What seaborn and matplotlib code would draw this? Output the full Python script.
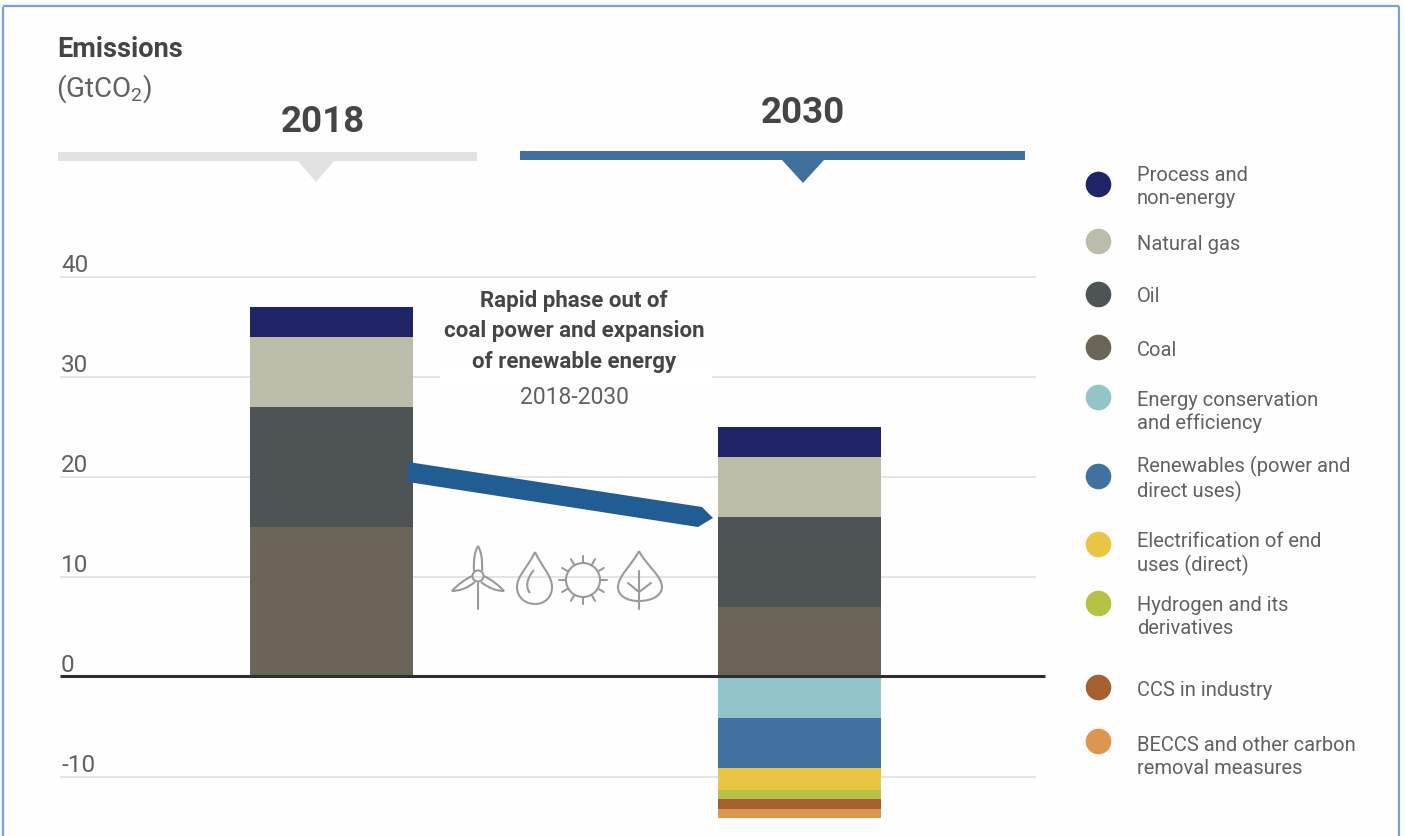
import numpy as np
import pandas as pd
import matplotlib
matplotlib.use("Agg")
import matplotlib.pyplot as plt
from matplotlib.patches import Polygon, Circle, PathPatch, Rectangle
from matplotlib.path import Path
import seaborn as sns

# Emissions by source and abatement measure, GtCO2
years = ["2018", "2030"]
positive_sources = ["Coal", "Oil", "Natural gas", "Process and non-energy"]
coal = [15, 7]
oil = [12, 9]
natural_gas = [7, 6]
process = [3, 3]

negative_sources = ["Energy conservation and efficiency", "Renewables (power and direct uses)",
                    "Electrification of end uses (direct)", "Hydrogen and its derivatives",
                    "CCS in industry", "BECCS and other carbon removal measures"]
efficiency = [0, -4.1]
renewables = [0, -5.0]
electrification = [0, -2.2]
hydrogen = [0, -0.9]
ccs = [0, -1.0]
beccs = [0, -0.9]

source_colors = {
    "Process and non-energy": "#1f2468",
    "Natural gas": "#bcbcab",
    "Oil": "#4e5455",
    "Coal": "#6b6558",
    "Energy conservation and efficiency": "#93c4c9",
    "Renewables (power and direct uses)": "#41719f",
    "Electrification of end uses (direct)": "#e8c544",
    "Hydrogen and its derivatives": "#b5c244",
    "CCS in industry": "#a5602f",
    "BECCS and other carbon removal measures": "#dd9550",
}

legend_rows = [
    ("Process and non-energy", "Process and\nnon-energy", 185, 187),
    ("Natural gas", "Natural gas", 242, 244),
    ("Oil", "Oil", 295, 296),
    ("Coal", "Coal", 348, 350),
    ("Energy conservation and efficiency", "Energy conservation\nand efficiency", 398, 412),
    ("Renewables (power and direct uses)", "Renewables (power and\ndirect uses)", 477, 479),
    ("Electrification of end uses (direct)", "Electrification of end\nuses (direct)", 545, 554),
    ("Hydrogen and its derivatives", "Hydrogen and its\nderivatives", 604, 617),
    ("CCS in industry", "CCS in industry", 688, 690),
    ("BECCS and other carbon removal measures", "BECCS and other carbon\nremoval measures", 742, 757),
]

sns.set_theme(style="white")
plt.rcParams["font.family"] = ["Roboto", "DejaVu Sans"]
plt.rcParams["mathtext.fontset"] = "custom"
plt.rcParams["mathtext.rm"] = "Roboto"
plt.rcParams["mathtext.default"] = "regular"

W, H = 1405, 837
fig = plt.figure(figsize=(W / 100, H / 100), dpi=100, facecolor="#fefefe")

# Main axes: 0 sits at y=677 px and each 10 GtCO2 spans 100 px
top_px, bottom_px = 230, 837
ax = fig.add_axes([60 / W, 0, (1036 - 60) / W, (bottom_px - top_px) / H])
ax.set_facecolor("none")

frame = pd.DataFrame({"year": years, "Coal": coal, "Oil": oil, "Natural gas": natural_gas,
                      "Process and non-energy": process,
                      negative_sources[0]: efficiency, negative_sources[1]: renewables,
                      negative_sources[2]: electrification, negative_sources[3]: hydrogen,
                      negative_sources[4]: ccs, negative_sources[5]: beccs})

bar_width = 163 / 468
for group in (positive_sources, negative_sources):
    base = np.zeros(len(years))
    for name in group:
        values = frame[name].to_numpy(dtype=float)
        sns.barplot(x=frame["year"], y=values, color=source_colors[name], width=bar_width,
                    bottom=base, saturation=1, ax=ax, linewidth=0, zorder=3)
        base += values

ax.set_xlim((60 - 331.5) / 468, (1036 - 331.5) / 468)
ax.set_ylim((677.5 - bottom_px) / 10, (677.5 - top_px) / 10)
ax.set_yticks([-10, 10, 20, 30, 40])
ax.set_xticks([])
ax.set_xlabel("")
ax.set_ylabel("")
ax.tick_params(left=False, labelleft=False)
ax.grid(axis="y", color="#e2e2e2", linewidth=1.3, zorder=0)
ax.set_axisbelow(True)
for spine in ax.spines.values():
    spine.set_visible(False)

# Overlay in figure pixels for headers, annotation, icons and legend
ov = fig.add_axes([0, 0, 1, 1])
ov.set_xlim(0, W)
ov.set_ylim(H, 0)
ov.axis("off")
ov.patch.set_alpha(0)

text_dark = "#444646"
text_mid = "#5f6162"

# Zero baseline runs slightly past the gridlines
ov.plot([60, 1045], [677, 677], color="#2b2f2f", linewidth=2.2, solid_capstyle="butt", zorder=5)

# Figure frame
for xs, ys in (([3, 3], [8, H]), ([3, 1399], [7, 7]), ([1399, 1399], [7, H])):
    ov.plot(xs, ys, color="#7d9fd6", linewidth=1.6, solid_capstyle="butt")

# Y tick labels
for value in [-10, 0, 10, 20, 30, 40]:
    ov.text(61, 677 - value * 10 - 12, str(value), ha="left", va="center", fontsize=17.5, color=text_mid)

ov.text(57, 49, "Emissions", ha="left", va="center", fontsize=19.5, fontweight="bold", color=text_dark)
ov.text(56, 89, "(GtCO$_2$)", ha="left", va="center", fontsize=20, color=text_mid)

# Year headers with their pointer bars
ov.text(323, 122, years[0], ha="center", va="center", fontsize=26.5, fontweight="bold", color=text_dark)
ov.text(803, 113, years[1], ha="center", va="center", fontsize=26.5, fontweight="bold", color=text_dark)
ov.add_patch(Rectangle((58, 153), 419, 9, color="#e2e2e2", lw=0))
ov.add_patch(Polygon([[298, 162], [334, 162], [316, 183]], color="#e2e2e2", lw=0))
ov.add_patch(Rectangle((520, 152), 505, 9, color="#3f6f9b", lw=0))
ov.add_patch(Polygon([[782, 161], [824, 161], [803, 184]], color="#3f6f9b", lw=0))

# Annotation, masking the 30 gridline behind it
ov.add_patch(Rectangle((440, 370), 272, 14, color="white", lw=0, zorder=1))
ov.text(574, 301, "Rapid phase out of", ha="center", va="center", fontsize=16, fontweight="bold", color=text_dark, zorder=2)
ov.text(574, 331, "coal power and expansion", ha="center", va="center", fontsize=16, fontweight="bold", color=text_dark, zorder=2)
ov.text(574, 362, "of renewable energy", ha="center", va="center", fontsize=16, fontweight="bold", color=text_dark, zorder=2)
ov.text(574, 397, "2018-2030", ha="center", va="center", fontsize=16.5, color=text_mid, zorder=2)

# Transition arrow
ov.add_patch(Polygon([[408, 463], [702, 508], [713, 519], [698, 528], [408, 483]],
                     color="#215d92", lw=0, zorder=6))

# Energy icons
icon_style = dict(color="#9a9a9a", linewidth=1.5, solid_capstyle="round")


def outline(verts, codes):
    ov.add_patch(PathPatch(Path(verts, codes), fc="none", ec="#9a9a9a", lw=1.5))


def blade(root_a, ctrl_a, tip, ctrl_b, root_b):
    outline([root_a, ctrl_a, tip, ctrl_b, root_b],
            [Path.MOVETO, Path.CURVE3, Path.CURVE3, Path.CURVE3, Path.CURVE3])


# Wind turbine
ov.plot([478, 478], [584, 610], **icon_style)
ov.add_patch(Circle((478, 577), 5.5, fc="none", ec="#9a9a9a", lw=1.5))
blade((474, 572), (473, 555), (478, 547), (483, 555), (482, 572))
blade((472, 577), (460, 583), (452, 592), (464, 592), (475, 583))
blade((484, 577), (496, 583), (504, 592), (492, 592), (481, 583))

# Water drop
C4 = Path.CURVE4
outline([(535, 553), (528, 568), (517, 577), (517, 588), (517, 598), (525, 605), (535, 605),
         (545, 605), (552, 598), (552, 588), (552, 577), (542, 568), (535, 553)],
        [Path.MOVETO, C4, C4, C4, C4, C4, C4, C4, C4, C4, C4, C4, C4])
outline([(534, 571), (527, 579), (525, 588), (530, 594)], [Path.MOVETO, C4, C4, C4])

# Sun
ov.add_patch(Circle((583, 581), 17, fc="none", ec="#9a9a9a", lw=1.5))
for angle in np.deg2rad(np.arange(0, 360, 30) + 0):
    ov.plot([583 + 17 * np.cos(angle), 583 + 24 * np.cos(angle)],
            [581 + 17 * np.sin(angle), 581 + 24 * np.sin(angle)], **icon_style)

# Leaf
outline([(639, 552), (632, 566), (618, 577), (618, 588), (618, 597), (627, 602), (639, 602),
         (651, 602), (662, 597), (662, 588), (662, 577), (646, 566), (639, 552)],
        [Path.MOVETO, C4, C4, C4, C4, C4, C4, C4, C4, C4, C4, C4, C4])
ov.plot([639, 639], [572, 610], **icon_style)
ov.plot([628, 639, 651], [584, 593, 584], **icon_style)

# Legend
for name, label, dot_y, text_y in legend_rows:
    ov.scatter([1098], [dot_y], s=340, color=source_colors[name], linewidths=0, zorder=3)
    ov.text(1137, text_y, label, ha="left", va="center", fontsize=14.5, color=text_mid, linespacing=1.25)

fig.savefig("out.png", dpi=100, facecolor=fig.get_facecolor())
